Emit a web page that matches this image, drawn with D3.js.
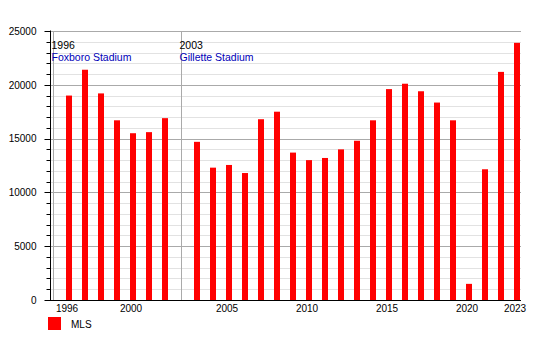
<!DOCTYPE html>
<html>
<head>
<meta charset="utf-8">
<script src="https://cdn.jsdelivr.net/npm/d3@7"></script>
<style>
  html, body { margin: 0; padding: 0; background: #fff; }
  svg { display: block; font-family: "Liberation Sans", Arial, sans-serif; }
</style>
</head>
<body>
<svg id="chart" width="550" height="350"></svg>
<script>
// ---- data ----
const yearsA = [1996, 1997, 1998, 1999, 2000, 2001, 2002];
const valuesA = [19000, 21400, 19200, 16700, 15500, 15600, 16900];
const yearsB = [2003, 2004, 2005, 2006, 2007, 2008, 2009, 2010, 2011, 2012, 2013,
                2014, 2015, 2016, 2017, 2018, 2019, 2020, 2021, 2022, 2023];
const valuesB = [14700, 12300, 12550, 11800, 16800, 17500, 13700, 13000, 13200, 14000, 14800,
                 16700, 19600, 20100, 19400, 18350, 16700, 1500, 12150, 21200, 23900];
const venueYears = ["1996", "2003"];
const venueNames = ["Foxboro Stadium", "Gillette Stadium"];
const xTickLabels = [1996, 2000, 2005, 2010, 2015, 2020, 2023];
const yMajorTicks = [0, 5000, 10000, 15000, 20000, 25000];
const yMinorTicks = d3.range(0, 25001, 1000);
const seriesName = "MLS";

// ---- layout ----
const svg = d3.select("#chart");
const plotLeft = 51, plotRight = 521, plotTop = 31, plotBottom = 300;

// slots: a separator slot before each venue period, then one slot per year
const slots = ["sep0", ...yearsA.map(String), "sep1", ...yearsB.map(String)];
const data = [...yearsA.map((y, i) => ({year: y, value: valuesA[i]})),
              ...yearsB.map((y, i) => ({year: y, value: valuesB[i]}))];

const x = d3.scaleBand().domain(slots).range([45, 45 + slots.length * 16]).paddingInner(0).paddingOuter(0);
const y = d3.scaleLinear().domain([0, 25000]).range([plotBottom, plotTop]);
const cx = s => x(String(s)) + x.bandwidth() / 2;
const crisp = v => Math.round(v) + 0.5;

// minor gridlines
svg.append("g").selectAll("line").data(yMinorTicks.filter(v => v % 5000 !== 0)).join("line")
  .attr("x1", plotLeft).attr("x2", plotRight)
  .attr("y1", d => crisp(y(d))).attr("y2", d => crisp(y(d)))
  .attr("stroke", "#e2e2e2").attr("stroke-width", 1);

// major gridlines
svg.append("g").selectAll("line").data(yMajorTicks.filter(v => v > 0)).join("line")
  .attr("x1", plotLeft).attr("x2", plotRight)
  .attr("y1", d => crisp(y(d))).attr("y2", d => crisp(y(d)))
  .attr("stroke", "#aaaaaa").attr("stroke-width", 1);

// venue separator lines
const sepSlots = ["sep0", "sep1"];
svg.append("g").selectAll("line").data(sepSlots).join("line")
  .attr("x1", d => crisp(cx(d) - 0.5)).attr("x2", d => crisp(cx(d) - 0.5))
  .attr("y1", plotTop).attr("y2", plotBottom)
  .attr("stroke", "#aaaaaa").attr("stroke-width", 1);

// venue labels
sepSlots.forEach((s, i) => {
  svg.append("text").attr("x", cx(s) - 1.5).attr("y", 48.5)
    .attr("font-size", 10.5).attr("fill", "#000").text(venueYears[i]);
  svg.append("text").attr("x", cx(s) - 1.5).attr("y", 60.5)
    .attr("font-size", 10.5).attr("fill", "#0000b8").text(venueNames[i]);
});

// bars
svg.append("g").selectAll("rect").data(data).join("rect")
  .attr("x", d => cx(d.year) - 3)
  .attr("width", 6)
  .attr("y", d => y(d.value))
  .attr("height", d => plotBottom - y(d.value))
  .attr("fill", "#ff0000");

// y axis
const yAxisG = svg.append("g").attr("transform", `translate(${plotLeft - 0.5},0)`);
yAxisG.append("line").attr("x1", 0).attr("x2", 0).attr("y1", plotTop - 0.5).attr("y2", plotBottom + 0.5)
  .attr("stroke", "#000").attr("stroke-width", 1);
yAxisG.selectAll("line.minor").data(yMinorTicks).join("line").attr("class", "minor")
  .attr("x1", d => yMajorTicks.includes(d) ? -6 : -4).attr("x2", 0)
  .attr("y1", d => crisp(y(d))).attr("y2", d => crisp(y(d)))
  .attr("stroke", "#000").attr("stroke-width", 1);
yAxisG.selectAll("text").data(yMajorTicks).join("text")
  .attr("x", -14).attr("y", d => y(d) + 3.8)
  .attr("text-anchor", "end").attr("font-size", 10).attr("fill", "#000")
  .text(d => d);

// x axis
svg.append("line").attr("x1", plotLeft - 1).attr("x2", plotRight)
  .attr("y1", plotBottom + 0.5).attr("y2", plotBottom + 0.5)
  .attr("stroke", "#000").attr("stroke-width", 1);
svg.append("g").selectAll("text").data(xTickLabels).join("text")
  .attr("x", d => cx(d) - 2).attr("y", 312)
  .attr("text-anchor", "middle").attr("font-size", 10).attr("fill", "#000")
  .text(d => d);

// legend
svg.append("rect").attr("x", 48).attr("y", 317).attr("width", 13).attr("height", 13).attr("fill", "#ff0000");
svg.append("text").attr("x", 71).attr("y", 328).attr("font-size", 10).attr("fill", "#000").text(seriesName);
</script>
</body>
</html>
